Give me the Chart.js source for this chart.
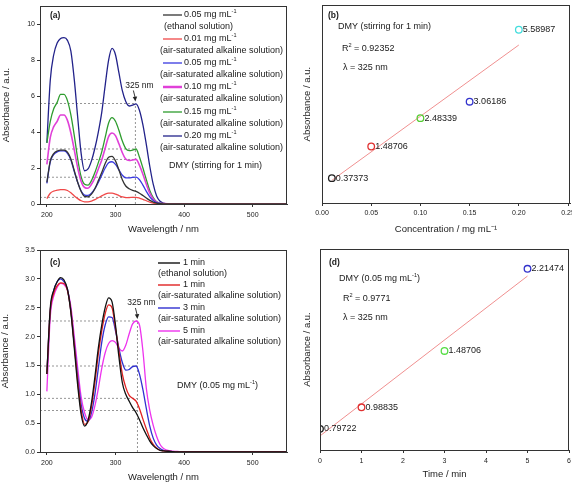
<!DOCTYPE html>
<html>
<head>
<meta charset="utf-8">
<script src="https://cdn.jsdelivr.net/npm/chart.js@4.4.1/dist/chart.umd.min.js"></script>
<style>
  html, body { margin: 0; background: #fff; overflow: hidden; }
  #wrap { position: relative; width: 572px; height: 483px; overflow: hidden; }
  canvas { position: absolute; }
</style>
</head>
<body>
<div id="wrap">
  <canvas id="chartA" width="290" height="240" style="left:0;top:0"></canvas>
  <canvas id="chartB" width="300" height="240" style="left:290px;top:0"></canvas>
  <canvas id="chartC" width="290" height="243" style="left:0;top:240px"></canvas>
  <canvas id="chartD" width="300" height="243" style="left:290px;top:240px"></canvas>
</div>
<script>
// ---- data ----
const wavelengths = [200, 205, 210, 215, 220, 225, 230, 235, 240, 245,
  250, 255, 260, 265, 270, 275, 280, 285, 290, 295,
  300, 305, 310, 315, 320, 325, 330, 335, 340, 345,
  350, 355, 360, 365, 370, 380, 390, 400, 450, 500, 550];

// (a) spectra, stirring for 1 min
const absA_eth005 = [1.2, 2.4, 2.8, 2.95, 3.0, 3.0, 2.88, 2.5, 1.85, 1.2,
  0.7, 0.42, 0.4, 0.55, 0.85, 1.3, 1.75, 2.25, 2.6, 2.65,
  2.4, 1.9, 1.35, 1.0, 0.85, 0.76, 0.7, 0.6, 0.47, 0.33,
  0.2, 0.11, 0.05, 0.02, 0.01, 0, 0, 0, 0, 0, 0];
const absA_alk001 = [0.3, 0.6, 0.72, 0.77, 0.8, 0.8, 0.75, 0.62, 0.45, 0.3,
  0.18, 0.12, 0.12, 0.16, 0.24, 0.35, 0.45, 0.55, 0.6, 0.6,
  0.55, 0.47, 0.4, 0.36, 0.36, 0.37, 0.37, 0.33, 0.26, 0.18,
  0.1, 0.05, 0.02, 0.01, 0, 0, 0, 0, 0, 0, 0];
const absA_alk005 = [1.15, 2.35, 2.75, 2.9, 2.95, 2.95, 2.82, 2.45, 1.8, 1.2,
  0.72, 0.5, 0.48, 0.6, 0.85, 1.2, 1.6, 2.0, 2.3, 2.35,
  2.2, 1.9, 1.6, 1.45, 1.45, 1.48, 1.49, 1.35, 1.05, 0.7,
  0.4, 0.2, 0.08, 0.03, 0.01, 0, 0, 0, 0, 0, 0];
const absA_alk010 = [2.2, 3.7, 4.3, 4.6, 4.95, 4.95, 4.65, 3.95, 3.0, 2.0,
  1.25, 0.92, 0.88, 1.1, 1.45, 1.95, 2.45, 3.1, 3.75, 3.95,
  3.8, 3.35, 2.85, 2.5, 2.42, 2.45, 2.48, 2.15, 1.65, 1.1,
  0.6, 0.28, 0.1, 0.04, 0.02, 0.01, 0, 0, 0, 0, 0];
const absA_alk015 = [3.4, 4.6, 5.3, 5.65, 6.1, 6.1, 5.75, 4.95, 3.8, 2.5,
  1.5, 1.1, 1.05, 1.3, 1.75, 2.3, 2.9, 3.7, 4.5, 4.8,
  4.6, 4.1, 3.5, 3.08, 2.97, 3.0, 3.06, 2.6, 2.0, 1.35,
  0.75, 0.35, 0.12, 0.05, 0.02, 0.01, 0, 0, 0, 0, 0];
const absA_alk020 = [3.4, 6.9, 8.3, 8.95, 9.2, 9.25, 9.1, 8.5, 6.9, 4.8,
  2.8, 1.85, 1.95, 2.4, 3.1, 4.0, 5.1, 6.6, 8.0, 8.65,
  8.3, 7.3, 6.3, 5.7, 5.45, 5.5, 5.57, 5.2, 4.4, 3.3,
  2.1, 1.1, 0.45, 0.15, 0.05, 0.01, 0, 0, 0, 0, 0];
const levelsA = [5.59, 3.06, 2.48, 1.49, 0.37];
const markWaveA = 329;

// (b) absorbance at 325 nm vs concentration
const concB = [0.01, 0.05, 0.10, 0.15, 0.20];
const absB = [0.37373, 1.48706, 2.48339, 3.06186, 5.58987];

// (c) spectra, 0.05 mg/mL
const absC_eth1 = [1.35, 2.5, 2.8, 2.95, 3.02, 2.98, 2.82, 2.42, 1.8, 1.15,
  0.65, 0.45, 0.55, 0.85, 1.3, 1.8, 2.2, 2.5, 2.67, 2.6,
  2.2, 1.65, 1.2, 1.0, 0.88, 0.77, 0.68, 0.56, 0.42, 0.3,
  0.19, 0.11, 0.06, 0.03, 0.02, 0.01, 0, 0, 0, 0, 0];
const absC_alk1 = [1.35, 2.45, 2.75, 2.88, 2.93, 2.92, 2.8, 2.44, 1.85, 1.22,
  0.72, 0.48, 0.52, 0.78, 1.2, 1.7, 2.1, 2.4, 2.55, 2.5,
  2.15, 1.75, 1.35, 1.12, 0.98, 0.93, 0.88, 0.75, 0.57, 0.4,
  0.24, 0.13, 0.07, 0.03, 0.02, 0.01, 0, 0, 0, 0, 0];
const absC_alk3 = [1.35, 2.45, 2.8, 2.95, 3.0, 2.95, 2.82, 2.45, 1.88, 1.3,
  0.82, 0.58, 0.53, 0.68, 1.0, 1.45, 1.9, 2.2, 2.34, 2.33,
  2.1, 1.8, 1.55, 1.42, 1.43, 1.48, 1.49, 1.35, 1.08, 0.75,
  0.45, 0.24, 0.12, 0.06, 0.03, 0.01, 0, 0, 0, 0, 0];
const absC_alk5 = [1.05, 2.35, 2.7, 2.85, 2.92, 2.9, 2.8, 2.52, 2.0, 1.45,
  0.95, 0.68, 0.56, 0.6, 0.8, 1.1, 1.45, 1.72, 1.88, 1.93,
  1.9, 1.8, 1.75, 1.85, 2.05, 2.22, 2.27, 2.2, 1.75, 1.1,
  0.72, 0.46, 0.27, 0.13, 0.06, 0.02, 0.01, 0, 0, 0, 0];
const levelsC = [2.27, 1.49, 0.93, 0.72];
const markWaveC = 332;

// (d) absorbance at 325 nm vs time
const timeD = [0, 1, 3, 5];
const absD = [0.79722, 0.98835, 1.48706, 2.21474];

// tick labels
const waveTicks = [200, 300, 400, 500];
const yTicksA = [0, 2, 4, 6, 8, 10];
const concTicks = [0, 0.05, 0.10, 0.15, 0.20, 0.25];
const yTicksC = [0, 0.5, 1.0, 1.5, 2.0, 2.5, 3.0, 3.5];
const timeTicks = [0, 1, 2, 3, 4, 5, 6];

const FONT = '"Liberation Sans", Arial, sans-serif';
Chart.defaults.font.family = FONT;
Chart.defaults.color = '#222';

// draw text with "^" parts as superscripts
function richText(ctx, x, y, parts, size, weight) {
  ctx.textBaseline = 'middle';
  ctx.textAlign = 'left';
  ctx.fillStyle = '#1a1a1a';
  parts.forEach(p => {
    const sup = p.startsWith('^');
    const s = sup ? p.slice(1) : p;
    const fs = sup ? size * 0.62 : size;
    ctx.font = (weight ? weight + ' ' : '') + fs + 'px ' + FONT;
    ctx.fillText(s, x, sup ? y - size * 0.38 : y);
    x += ctx.measureText(s).width;
  });
}

const pts = (xs, ys) => xs.map((x, i) => ({ x, y: ys[i] }));

function curve(color, values, width) {
  return {
    data: pts(wavelengths, values), borderColor: color, borderWidth: width || 1.3,
    pointRadius: 0, cubicInterpolationMode: 'monotone', order: 1
  };
}

function dashedGuides(levels, wave, xMin) {
  const sets = levels.map(l => ({ data: [{ x: xMin, y: l }, { x: wave, y: l }] }));
  sets.push({ data: [{ x: wave, y: 0 }, { x: wave, y: Math.max(...levels) }] });
  return sets.map(s => Object.assign(s, {
    borderColor: '#8a8a8a', borderWidth: 0.9, borderDash: [2, 2], pointRadius: 0, order: 5
  }));
}

function linearFit(xs, ys) {
  const n = xs.length;
  const mx = xs.reduce((a, b) => a + b) / n, my = ys.reduce((a, b) => a + b) / n;
  let sxy = 0, sxx = 0;
  xs.forEach((x, i) => { sxy += (x - mx) * (ys[i] - my); sxx += (x - mx) * (x - mx); });
  const slope = sxy / sxx;
  return x => my + slope * (x - mx);
}

// box around the plot area
Chart.register({
  id: 'frame',
  afterDraw(chart) {
    const { ctx, chartArea: a } = chart;
    ctx.save();
    ctx.strokeStyle = '#333';
    ctx.lineWidth = 1;
    ctx.strokeRect(Math.round(a.left) + 0.5, Math.round(a.top) + 0.5,
      Math.round(a.right - a.left) - 1, Math.round(a.bottom - a.top));
    ctx.restore();
  }
});

function makeScales(c) {
  return {
    x: {
      type: 'linear', min: c.xMin, max: c.xMax,
      afterBuildTicks: s => { s.ticks = c.xTicks.map(v => ({ value: v })); },
      afterFit: s => { s.height = c.xHeight; },
      ticks: { font: { size: 7 }, padding: c.xTickPad, maxRotation: 0, callback: c.xFmt },
      grid: { drawOnChartArea: false, tickLength: 3, color: '#333' },
      border: { color: '#333' },
      title: { display: true, text: c.xTitle, font: { size: 9.5 }, padding: { top: 0, bottom: c.xTitlePad } }
    },
    y: {
      min: c.yMin, max: c.yMax,
      afterBuildTicks: s => { s.ticks = (c.yTicks || []).map(v => ({ value: v })); },
      afterFit: s => { s.width = c.yWidth; },
      ticks: { display: !!c.yTicks, font: { size: 7 }, padding: 2, callback: c.yFmt },
      grid: { drawOnChartArea: false, drawTicks: !!c.yTicks, tickLength: 3, color: '#333' },
      border: { color: '#333' },
      title: { display: true, text: 'Absorbance / a.u.', font: { size: 9.5 }, padding: { top: c.yTitlePad, bottom: 0 } }
    }
  };
}

const common = {
  responsive: false, animation: false, devicePixelRatio: 1,
  plugins: { legend: { display: false }, tooltip: { enabled: false } }
};

const layout = (top, right, left) => ({ padding: { top, right, left, bottom: 0 } });

function arrowLabel(chart, wave, level) {
  const { ctx, scales: { x, y } } = chart;
  const px = x.getPixelForValue(wave), py = y.getPixelForValue(level) - 2;
  ctx.save();
  ctx.strokeStyle = '#222';
  ctx.fillStyle = '#222';
  ctx.lineWidth = 0.9;
  ctx.beginPath(); ctx.moveTo(px - 2, py - 11); ctx.lineTo(px, py - 3); ctx.stroke();
  ctx.beginPath(); ctx.moveTo(px, py); ctx.lineTo(px - 2.6, py - 4.5); ctx.lineTo(px + 1.8, py - 5); ctx.closePath(); ctx.fill();
  ctx.restore();
  ctx.save();
  ctx.font = '8.5px ' + FONT;
  ctx.textAlign = 'center';
  ctx.textBaseline = 'middle';
  ctx.fillStyle = '#1a1a1a';
  ctx.fillText('325 nm', px + 4, py - 16);
  ctx.restore();
}

function drawLegend(ctx, entries, opt) {
  ctx.save();
  entries.forEach((e, i) => {
    const y = opt.rows[i];
    ctx.strokeStyle = e.color;
    ctx.lineWidth = e.width;
    ctx.beginPath(); ctx.moveTo(opt.lineX[0], y); ctx.lineTo(opt.lineX[1], y); ctx.stroke();
    richText(ctx, opt.textX, y, e.label, 9);
    richText(ctx, e.subX || opt.subX, y + opt.gap, [e.sub], 9);
  });
  ctx.restore();
}

function pointLabels(chart, idx, values) {
  const { ctx } = chart;
  ctx.save();
  chart.getDatasetMeta(idx).data.forEach((p, j) => richText(ctx, p.x + 4, p.y, [String(values[j])], 9));
  ctx.restore();
}

// ---- (a) ----
const colorsA = ['#333333', '#f04848', '#3838e0', '#e040d8', '#2e9c2e', '#22228a'];
const seriesA = [absA_eth005, absA_alk001, absA_alk005, absA_alk010, absA_alk015, absA_alk020];
const concLabelsA = ['0.05', '0.01', '0.05', '0.10', '0.15', '0.20'];
new Chart(document.getElementById('chartA'), {
  type: 'line',
  data: {
    datasets: seriesA.map((s, i) => curve(colorsA[i], s, i === 3 ? 1.6 : 1.3))
      .concat(dashedGuides(levelsA, markWaveA, 190))
  },
  options: Object.assign({}, common, {
    layout: layout(4, 3, 0),
    scales: makeScales({
      xMin: 190, xMax: 550, xTicks: waveTicks, xHeight: 36, xTickPad: 4, xTitle: 'Wavelength / nm', xTitlePad: 5,
      yMin: 0, yMax: 11, yTicks: yTicksA, yWidth: 40, yTitlePad: 1
    })
  }),
  plugins: [{
    id: 'decorA',
    afterDraw(chart) {
      const ctx = chart.ctx;
      arrowLabel(chart, markWaveA, levelsA[0]);
      richText(ctx, 50, 16, ['(a)'], 8.5, 'bold');
      drawLegend(ctx, colorsA.map((c, i) => ({
        color: c, width: i === 3 ? 2.5 : 1.3,
        label: [concLabelsA[i] + ' mg mL', '^-1'],
        sub: i === 0 ? '(ethanol solution)' : '(air-saturated alkaline solution)',
        subX: i === 0 ? 164 : null
      })), { rows: [15, 39, 63, 87, 112, 136], gap: 12, lineX: [163, 182], textX: 184, subX: 160 });
      richText(ctx, 169, 166, ['DMY (stirring for 1 min)'], 9);
    }
  }]
});

// ---- (b) ----  (canvas runs past the page edge so "0.25" gets cut like the original)
const fitB = linearFit(concB, absB);
new Chart(document.getElementById('chartB'), {
  type: 'line',
  data: {
    datasets: [
      {
        data: pts(concB, absB), showLine: false, pointRadius: 3.3, pointBorderWidth: 1.3,
        pointBackgroundColor: 'rgba(0,0,0,0)',
        pointBorderColor: ['#222222', '#e03030', '#55cc33', '#3333cc', '#44dddd']
      },
      {
        data: [concB[0], concB[concB.length - 1]].map(x => ({ x, y: fitB(x) })),
        borderColor: '#f09090', borderWidth: 1, pointRadius: 0
      }
    ]
  },
  options: Object.assign({}, common, {
    layout: layout(3, 20, 12),
    scales: makeScales({
      xMin: 0, xMax: 0.252, xTicks: concTicks, xHeight: 37, xTickPad: 3,
      xTitle: 'Concentration / mg mL\u207B\u00B9', xTitlePad: 5,
      xFmt: v => v.toFixed(2),
      yMin: -0.5, yMax: 6.45, yWidth: 20, yTitlePad: 0
    })
  }),
  plugins: [{
    id: 'decorB',
    afterDraw(chart) {
      const ctx = chart.ctx;
      pointLabels(chart, 0, absB);
      richText(ctx, 38, 16, ['(b)'], 8.5, 'bold');
      richText(ctx, 48, 27, ['DMY (stirring for 1 min)'], 9);
      richText(ctx, 52, 49, ['R', '^2', ' = 0.92352'], 9);
      richText(ctx, 53, 68, ['\u03BB = 325 nm'], 9);
    }
  }]
});

// ---- (c) ----
const colorsC = ['#111111', '#e02222', '#3030d0', '#ee33ee'];
const seriesC = [absC_eth1, absC_alk1, absC_alk3, absC_alk5];
const timeLabelsC = ['1 min', '1 min', '3 min', '5 min'];
new Chart(document.getElementById('chartC'), {
  type: 'line',
  data: {
    datasets: seriesC.map((s, i) => curve(colorsC[i], s, 1.3))
      .concat(dashedGuides(levelsC, markWaveC, 190))
  },
  options: Object.assign({}, common, {
    layout: layout(10, 3, 0),
    scales: makeScales({
      xMin: 190, xMax: 550, xTicks: waveTicks, xHeight: 31, xTickPad: 4, xTitle: 'Wavelength / nm', xTitlePad: 0,
      yMin: 0, yMax: 3.5, yTicks: yTicksC, yWidth: 40, yTitlePad: 0, yFmt: v => v.toFixed(1)
    })
  }),
  plugins: [{
    id: 'decorC',
    afterDraw(chart) {
      const ctx = chart.ctx;
      arrowLabel(chart, markWaveC, levelsC[0]);
      richText(ctx, 50, 23, ['(c)'], 8.5, 'bold');
      drawLegend(ctx, colorsC.map((c, i) => ({
        color: c, width: 1.4, label: [timeLabelsC[i]],
        sub: i === 0 ? '(ethanol solution)' : '(air-saturated alkaline solution)'
      })), { rows: [23, 45, 68, 91], gap: 11, lineX: [158, 180], textX: 183, subX: 158 });
      richText(ctx, 177, 146, ['DMY (0.05 mg mL', '^-1', ')'], 9);
    }
  }]
});

// ---- (d) ----
const fitD = linearFit(timeD, absD);
new Chart(document.getElementById('chartD'), {
  type: 'line',
  data: {
    datasets: [
      {
        data: pts(timeD, absD), showLine: false, pointRadius: 3.3, pointBorderWidth: 1.3,
        pointBackgroundColor: 'rgba(0,0,0,0)',
        pointBorderColor: ['#222222', '#e03030', '#55dd44', '#3333cc']
      },
      {
        data: [timeD[0], timeD[timeD.length - 1]].map(x => ({ x, y: fitD(x) })),
        borderColor: '#f09090', borderWidth: 1, pointRadius: 0
      }
    ]
  },
  options: Object.assign({}, common, {
    layout: layout(9, 21, 12),
    scales: makeScales({
      xMin: 0, xMax: 6, xTicks: timeTicks, xHeight: 33, xTickPad: 4, xTitle: 'Time / min', xTitlePad: 3,
      yMin: 0.61, yMax: 2.39, yWidth: 18, yTitlePad: 0
    })
  }),
  plugins: [{
    id: 'decorD',
    afterDraw(chart) {
      const ctx = chart.ctx;
      pointLabels(chart, 0, absD);
      richText(ctx, 39, 23, ['(d)'], 8.5, 'bold');
      richText(ctx, 49, 39, ['DMY (0.05 mg mL', '^-1', ')'], 9);
      richText(ctx, 53, 59, ['R', '^2', ' = 0.9771'], 9);
      richText(ctx, 53, 78, ['\u03BB = 325 nm'], 9);
    }
  }]
});
</script>
</body>
</html>
